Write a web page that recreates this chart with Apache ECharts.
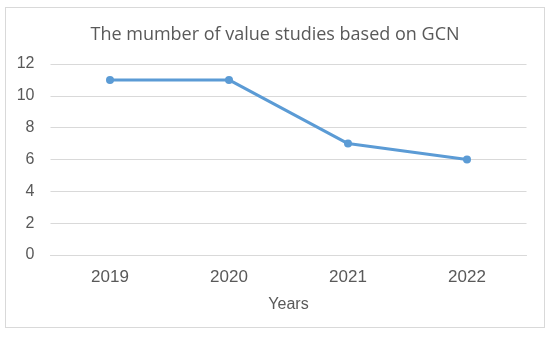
<!DOCTYPE html>
<html>
<head>
<meta charset="utf-8">
<script src="https://cdn.jsdelivr.net/npm/echarts@6/dist/echarts.min.js"></script>
<style>
html,body{margin:0;padding:0;background:#fff;}
#wrap{position:absolute;left:5px;top:7px;width:538px;height:319px;border:1px solid #d9d9d9;}
#c{position:absolute;left:0;top:0;width:550px;height:338px;}
</style>
</head>
<body>
<div id="wrap"></div>
<div id="c"></div>
<script>
var titleText = 'The mumber of value studies based on GCN';
var categories = ['2019', '2020', '2021', '2022'];
var values = [11, 11, 7, 6];
var xName = 'Years';

var chart = echarts.init(document.getElementById('c'));
chart.setOption({
  animation: false,
  title: {
    text: titleText,
    left: 'center',
    top: 21,
    textStyle: {fontFamily: 'Open Sans', fontSize: 18, fontWeight: 'normal', color: '#595959'}
  },
  grid: {left: 50.5, right: 23.5, top: 64, bottom: 83},
  xAxis: {
    type: 'category',
    data: categories,
    name: xName,
    nameLocation: 'middle',
    nameGap: 42,
    nameTextStyle: {fontFamily: 'Liberation Sans', fontSize: 16, color: '#595959'},
    axisLine: {show: true, lineStyle: {color: '#d9d9d9', width: 1}},
    axisTick: {show: false},
    axisLabel: {fontFamily: 'Liberation Sans', fontSize: 17, color: '#595959', margin: 14}
  },
  yAxis: {
    type: 'value',
    min: 0, max: 12, interval: 2,
    axisLine: {show: false},
    axisTick: {show: false},
    splitLine: {lineStyle: {color: '#d9d9d9', width: 1}},
    axisLabel: {fontFamily: 'Liberation Sans', fontSize: 16, color: '#595959', margin: 16}
  },
  series: [{
    type: 'line',
    data: values,
    symbol: 'circle',
    symbolSize: 8,
    lineStyle: {color: '#5b9bd5', width: 3},
    itemStyle: {color: '#5b9bd5'}
  }]
});
</script>
</body>
</html>
